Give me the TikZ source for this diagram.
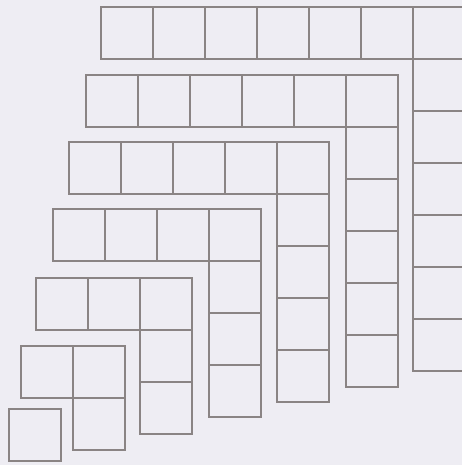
\documentclass[tikz,border=0pt]{standalone}
\begin{document}
\begin{tikzpicture}[x=1pt,y=-1pt,
  cell/.style={draw=linegray, line width=1.6pt, minimum size=52pt, inner sep=0pt, outer sep=0pt, rectangle}]
\definecolor{linegray}{RGB}{138,132,132}
\definecolor{paper}{RGB}{238,237,243}
\useasboundingbox (0,0) rectangle (462,465);
\clip (0,0) rectangle (462,465);
\fill[paper] (0,0) rectangle (462,465);
\foreach \n/\xo/\yo in {1/9/409, 2/21/346, 3/36/278, 4/53/209, 5/69/142, 6/86/75, 7/101/7}{
  \pgfmathtruncatemacro{\last}{\n-1}
  \foreach \i in {0,...,\last}{
    \node[cell] (g\n r\i) at (\xo+52*\i+26, \yo+26) {};
  }
  \ifnum\n>1
  \foreach \j in {1,...,\last}{
    \node[cell] (g\n c\j) at (\xo+52*\last+26, \yo+52*\j+26) {};
  }
  \fi
}
\end{tikzpicture}
\end{document}
